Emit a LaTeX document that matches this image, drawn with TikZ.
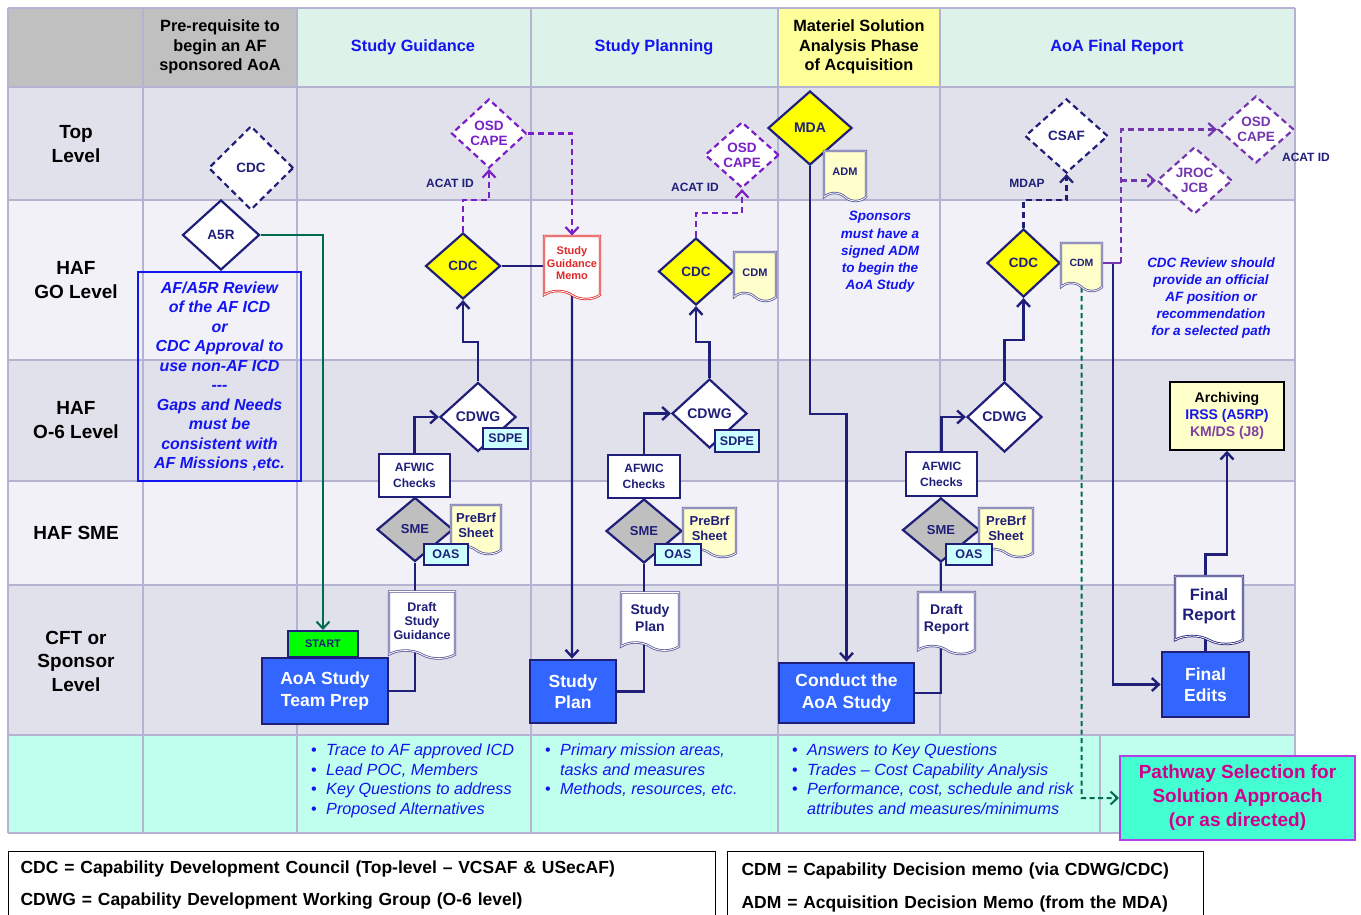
\documentclass[tikz,border=0pt]{standalone}
\usepackage{fontspec}
\setmainfont{Liberation Sans}
\usetikzlibrary{shapes.geometric,shapes.symbols,arrows.meta}
\definecolor{nv}{HTML}{1F1F7A}
\definecolor{bl}{HTML}{1414F0}
\definecolor{pu}{HTML}{7A1FC8}
\definecolor{pm}{HTML}{7436B0}
\definecolor{gr}{HTML}{006B4F}
\definecolor{gl}{HTML}{B4B4D2}
\definecolor{hg}{HTML}{C0C0C0}
\definecolor{hm}{HTML}{DDF2E9}
\definecolor{hy}{HTML}{FFFF99}
\definecolor{ra}{HTML}{E1E1EC}
\definecolor{rb}{HTML}{F1F1F7}
\definecolor{nt}{HTML}{C0FFEE}
\definecolor{ly}{HTML}{FFFFCC}
\definecolor{lc}{HTML}{CCFFFF}
\definecolor{tb}{HTML}{3366FF}
\definecolor{yl}{HTML}{FFFF00}
\definecolor{sg}{HTML}{BFBFBF}
\definecolor{go}{HTML}{00FF00}
\definecolor{mr}{HTML}{E02828}
\definecolor{pw}{HTML}{44FFD2}
\definecolor{pb}{HTML}{B040E0}
\definecolor{mg}{HTML}{D0008C}
\definecolor{kp}{HTML}{8040A0}
\pgfdeclarelayer{cells}
\pgfdeclarelayer{links}
\pgfsetlayers{cells,links,main}
\newcommand\bul{\makebox[15pt][l]{\upshape\textbullet}}
\newcommand\nob{\hspace*{15pt}}
\tikzset{
  hd/.style={align=center,inner sep=0pt,font=\bfseries\fontsize{16.3}{19.5}\selectfont},
  rl/.style={align=center,inner sep=0pt,font=\bfseries\fontsize{19}{24}\selectfont},
  dia/.style={diamond,draw=nv,line width=2.2pt,fill=white,inner sep=0pt,text=nv,align=center,
    font=\bfseries\fontsize{13.5}{15}\selectfont},
  ydia/.style={dia,fill=yl},
  gdia/.style={dia,fill=sg,font=\bfseries\fontsize{13}{15}\selectfont},
  ddia/.style={dia,dash pattern=on 6pt off 4pt},
  pdia/.style={ddia,draw=pu,text=pu},
  task/.style={rectangle,draw=nv,line width=2.8pt,fill=tb,text=white,align=center,inner sep=1pt,
    font=\bfseries\fontsize{17.5}{21.5}\selectfont},
  chk/.style={rectangle,draw=nv,line width=2pt,fill=white,text=nv,align=center,inner sep=1pt,
    font=\bfseries\fontsize{12}{16}\selectfont},
  tag/.style={chk,fill=lc,font=\bfseries\fontsize{12.5}{14}\selectfont},
  memo/.style={tape,tape bend top=none,tape bend bottom=out and in,tape bend height=8pt,
    draw=nv!75,double=white,double distance=0.8pt,line width=0.8pt,fill=white,text=nv,
    align=center,inner sep=1pt,font=\bfseries\fontsize{12.5}{14}\selectfont},
  lbl/.style={text=nv,inner sep=0pt,font=\bfseries\fontsize{12}{14}\selectfont},
  note/.style={text=bl,align=center,inner sep=0pt,font=\bfseries\itshape\fontsize{13.5}{17.2}\selectfont},
  bnote/.style={text=bl,align=left,inner sep=0pt,anchor=north west,font=\itshape\fontsize{16.2}{19.5}\selectfont},
  leg/.style={draw=black,line width=1.2pt,fill=white,anchor=north west,align=left,inner ysep=0pt,
    font=\bfseries\fontsize{17.5}{32}\selectfont},
  flow/.style={draw=nv,line width=2.4pt},
  pflow/.style={draw=pu,line width=2.2pt,dash pattern=on 6pt off 4pt},
  mflow/.style={pflow,draw=pm},
  nflow/.style={flow,line width=2.2pt,dash pattern=on 6pt off 4pt},
  gflow/.style={draw=gr,line width=2pt},
  gdash/.style={gflow,dash pattern=on 5pt off 3.5pt}
}
\begin{document}
\begin{tikzpicture}[x=1pt,y=-1pt,>={Straight Barb[length=7pt,width=13pt]}]
\useasboundingbox (0,0) rectangle (1361,915);
\begin{pgfonlayer}{cells}
  \fill[white] (0,0) rectangle (1361,915);
  \fill[hg] (8,8) rectangle (297,87);
  \fill[hm] (297,8) rectangle (778,87);
  \fill[hy] (778,8) rectangle (940,87);
  \fill[hm] (940,8) rectangle (1295,87);
  \foreach \ya/\yb/\c in {87/200/ra,200/360/rb,360/481/ra,481/585/rb,585/735/ra}
    \fill[\c] (8,\ya) rectangle (1295,\yb);
  \fill[nt] (8,735) rectangle (1295,833);
  \foreach \y in {8,87,200,360,481,585,735,833}
    \draw[gl,line width=1.5pt] (8,\y) -- (1295,\y);
  \foreach \x in {8,143,297,531,778,940,1295}
    \draw[gl,line width=1.5pt] (\x,8) -- (\x,735);
  \foreach \x in {8,143,297,531,778,1100,1295}
    \draw[gl,line width=1.5pt] (\x,735) -- (\x,833);
\end{pgfonlayer}

% headers and row labels
\node[hd] (hpre) at (220,47) {Pre-requisite to\\begin an AF\\sponsored AoA};
\node[hd,text=bl] (hsg) at (413,47) {Study Guidance};
\node[hd,text=bl] (hsp) at (654,47) {Study Planning};
\node[hd] (hmsa) at (859,47) {Materiel Solution\\Analysis Phase\\of Acquisition};
\node[hd,text=bl] (hfin) at (1117,47) {AoA Final Report};
\node[rl] (rtop) at (76,144) {Top\\Level};
\node[rl] (rgo) at (76,280) {HAF\\GO Level};
\node[rl] (ro6) at (76,420) {HAF\\O-6 Level};
\node[rl] (rsme) at (76,533) {HAF SME};
\node[rl,font=\bfseries\fontsize{19}{23.5}\selectfont] (rcft) at (76,661) {CFT or\\Sponsor\\Level};

% pre-requisite
\node[ddia,minimum width=85pt,minimum height=84pt] (cdc0) at (251,168) {CDC};
\node[dia,minimum width=77pt,minimum height=70pt] (a5r) at (221,235) {A5R};
\node[draw=bl,line width=1.3pt,minimum width=163pt,minimum height=209pt,text=bl,align=center,inner sep=0pt,
  font=\bfseries\itshape\fontsize{16}{19.5}\selectfont] (review) at (219.5,376.5)
  {AF/A5R Review\\of the AF ICD\\or\\CDC Approval to\\use non-AF ICD\\{-}{-}{-}\\Gaps and Needs\\must be\\consistent with\\AF Missions ,etc.};

% study guidance
\node[chk,fill=go,minimum width=70pt,minimum height=26pt,font=\bfseries\fontsize{11}{12}\selectfont] (start) at (323,644) {START};
\node[task,minimum width=126pt,minimum height=66pt] (prep) at (325,691) {AoA Study\\Team Prep};
\node[memo,minimum width=66pt,minimum height=67pt] (dsg) at (422,621) {Draft\\Study\\Guidance};
\node[gdia,minimum width=76pt,minimum height=64pt] (sme1) at (415,529.5) {SME};
\node[chk,minimum width=71pt,minimum height=43pt] (afwic1) at (414.5,475.5) {AFWIC\\Checks};
\node[memo,fill=ly,minimum width=50pt,minimum height=49pt,font=\bfseries\fontsize{13}{15}\selectfont] (pre1) at (476,525.5) {PreBrf\\Sheet};
\node[tag,minimum width=44pt,minimum height=21pt] (oas1) at (446,554.5) {OAS};
\node[dia,minimum width=76pt,minimum height=69pt,font=\bfseries\fontsize{14}{15}\selectfont] (cdwg1) at (478,417) {CDWG};
\node[tag,minimum width=45pt,minimum height=21pt] (sdpe1) at (505.5,438.5) {SDPE};
\node[ydia,minimum width=75pt,minimum height=66pt] (cdc1) at (463,266) {CDC};
\node[pdia,minimum width=75pt,minimum height=69pt] (osd1) at (489,133.5) {OSD\\CAPE};
\node[lbl] (acat1) at (450,183) {ACAT ID};

% study planning
\node[memo,draw=mr,text=mr,minimum width=56pt,minimum height=63pt,font=\bfseries\fontsize{11}{12.5}\selectfont] (sgm) at (572,263.5) {Study\\Guidance\\Memo};
\node[task,minimum width=86pt,minimum height=63pt] (splan) at (573,691.5) {Study\\Plan};
\node[memo,minimum width=58pt,minimum height=58pt,font=\bfseries\fontsize{14}{17}\selectfont] (spdoc) at (650,617.5) {Study\\Plan};
\node[gdia,minimum width=76pt,minimum height=64pt] (sme2) at (644,531) {SME};
\node[chk,minimum width=72pt,minimum height=43pt] (afwic2) at (644,476.5) {AFWIC\\Checks};
\node[memo,fill=ly,minimum width=53pt,minimum height=49pt,font=\bfseries\fontsize{13}{15}\selectfont] (pre2) at (709.5,528.5) {PreBrf\\Sheet};
\node[tag,minimum width=46pt,minimum height=21pt] (oas2) at (678,554.5) {OAS};
\node[dia,minimum width=75pt,minimum height=69pt,font=\bfseries\fontsize{14}{15}\selectfont] (cdwg2) at (709.5,413.5) {CDWG};
\node[tag,minimum width=44pt,minimum height=22pt] (sdpe2) at (737,441) {SDPE};
\node[ydia,minimum width=75pt,minimum height=67pt] (cdc2) at (696,271.5) {CDC};
\node[memo,fill=ly,minimum width=42pt,minimum height=49pt,font=\bfseries\fontsize{11}{12}\selectfont] (cdm2) at (755,272.5) {CDM};
\node[pdia,minimum width=74pt,minimum height=66pt] (osd2) at (742,155) {OSD\\CAPE};
\node[lbl] (acat2) at (695,187) {ACAT ID};

% materiel solution analysis
\node[ydia,minimum width=84pt,minimum height=74pt,font=\bfseries\fontsize{14}{15}\selectfont] (mda) at (810,128) {MDA};
\node[memo,fill=ly,minimum width=42pt,minimum height=50pt,font=\bfseries\fontsize{11}{12}\selectfont] (adm) at (845,172) {ADM};
\node[task,minimum width=135pt,minimum height=60pt] (conduct) at (846.5,693) {Conduct the\\AoA Study};
\node[memo,minimum width=57pt,minimum height=62pt,font=\bfseries\fontsize{14}{17}\selectfont] (drep) at (946.5,619) {Draft\\Report};
\node[note] (spons) at (880,252) {Sponsors\\must have a\\signed ADM\\to begin the\\AoA Study};

% final report
\node[gdia,minimum width=77pt,minimum height=64pt] (sme3) at (941,530) {SME};
\node[chk,minimum width=71pt,minimum height=44pt] (afwic3) at (941.5,474) {AFWIC\\Checks};
\node[memo,fill=ly,minimum width=54pt,minimum height=49pt,font=\bfseries\fontsize{13}{15}\selectfont] (pre3) at (1006,528.5) {PreBrf\\Sheet};
\node[tag,minimum width=46pt,minimum height=21pt] (oas3) at (969,554.5) {OAS};
\node[dia,minimum width=75pt,minimum height=70pt,font=\bfseries\fontsize{14}{15}\selectfont] (cdwg3) at (1004.5,417) {CDWG};
\node[ydia,minimum width=73pt,minimum height=68pt] (cdc3) at (1023.5,263) {CDC};
\node[memo,fill=ly,minimum width=41pt,minimum height=48pt,font=\bfseries\fontsize{10.5}{12}\selectfont] (cdm3) at (1081.5,263) {CDM};
\node[ddia,minimum width=83pt,minimum height=74pt] (csaf) at (1066.5,136) {CSAF};
\node[lbl] (mdap) at (1027,183) {MDAP};
\node[pdia,draw=pm,text=pm,minimum width=76pt,minimum height=67pt] (osd3) at (1256,129.5) {OSD\\CAPE};
\node[lbl] (acat3) at (1306,157) {ACAT ID};
\node[pdia,draw=pm,text=pm,minimum width=75pt,minimum height=67pt] (jroc) at (1194.5,180.5) {JROC\\JCB};
\node[note] (cdcrev) at (1211,298) {CDC Review should\\provide an official\\AF position or\\recommendation\\for a selected path};
\node[task,minimum width=87pt,minimum height=65pt] (fedits) at (1205.5,684.5) {Final\\Edits};
\node[memo,draw=nv,minimum width=68pt,minimum height=68pt,font=\bfseries\fontsize{16.5}{20}\selectfont] (frep) at (1209,606) {Final\\Report};
\node[draw=black,line width=1.5pt,fill=ly,minimum width=114pt,minimum height=68pt,align=center,inner sep=0pt,
  font=\bfseries\fontsize{14}{17}\selectfont] (arch) at (1227,416)
  {Archiving\\\textcolor{bl}{IRSS (A5RP)}\\\textcolor{kp}{KM/DS (J8)}};
\node[draw=pb,line width=2pt,fill=pw,text=mg,minimum width=235pt,minimum height=84pt,align=center,inner sep=0pt,
  font=\bfseries\fontsize{19}{24}\selectfont] (pathw) at (1237.5,798) {Pathway Selection for\\Solution Approach\\(or as directed)};
\coordinate (split) at (1121,263);
\coordinate (drop) at (1113,263);

% notes row
\node[bnote] (ntsg) at (311,744) {\bul Trace to AF approved ICD\\\bul Lead POC, Members\\\bul Key Questions to address\\\bul Proposed Alternatives};
\node[bnote] (ntsp) at (545,744) {\bul Primary mission areas,\\\nob tasks and measures\\\bul Methods, resources, etc.};
\node[bnote] (ntms) at (792,744) {\bul Answers to Key Questions\\\bul Trades -- Cost Capability Analysis\\\bul Performance, cost, schedule and risk\\\nob attributes and measures/minimums};

% legend
\node[leg,minimum width=707pt,minimum height=66pt,inner xsep=12pt,text width=683pt] (legl) at (8,851)
  {CDC = Capability Development Council (Top-level -- VCSAF \& USecAF)\\CDWG = Capability Development Working Group (O-6 level)};
\node[leg,minimum width=476pt,minimum height=71pt,inner xsep=14pt,text width=448pt,font=\bfseries\fontsize{17.5}{33}\selectfont] (legr) at (727,851)
  {CDM = Capability Decision memo (via CDWG/CDC)\\ADM = Acquisition Decision Memo (from the MDA)};

\begin{pgfonlayer}{links}
  \draw[gflow,->] (a5r.east) -| (start.north);
  \draw[flow] (prep) -| (sme1 |- dsg);
  \draw[flow] (sme1) -- (sme1 |- dsg);
  \draw[flow,->] (afwic1.north) |- (cdwg1.west);
  \draw[flow,->] (cdwg1.north) -- (cdwg1.north |- 0,342) -| (cdc1.south);
  \draw[pflow,->] (cdc1.north) -- (cdc1.north |- 0,200) -| (osd1.south);
  \draw[pflow,->] (osd1.east) -| (sgm.north);
  \draw[flow] (cdc1) -- (cdc1 -| sgm);
  \draw[flow,->] (sgm) -- (sgm |- splan.north);
  \draw[flow] (splan) -| (sme2 |- spdoc);
  \draw[flow] (sme2) -- (sme2 |- spdoc);
  \draw[flow,->] (afwic2.north) |- (cdwg2.west);
  \draw[flow,->] (cdwg2.north) -- (cdwg2.north |- 0,342) -| (cdc2.south);
  \draw[pflow,->] (cdc2.north) -- (cdc2.north |- 0,213) -| (osd2.south);
  \draw[flow,->] (mda) -- (mda |- 0,414) -| (conduct.north);
  \draw[flow] (conduct) -| (sme3 |- drep);
  \draw[flow] (sme3) -- (sme3 |- drep);
  \draw[flow,->] (afwic3.north) |- (cdwg3.west);
  \draw[flow,->] (cdwg3.north) -- (cdwg3.north |- 0,340) -| (cdc3.south);
  \draw[nflow,->] (cdc3.north) -- (cdc3.north |- 0,200) -| (csaf.south);
  \draw[flow,->] (drop) |- (fedits.west);
  \draw[draw=pm,line width=2.2pt] (cdm3.east) -- (split);
  \draw[mflow,->] (split) |- (osd3.west);
  \draw[mflow,->] (split |- jroc) -- (jroc.west);
  \draw[gdash,->] (cdm3) -- (cdm3 |- pathw) -- (pathw.west);
  \draw[flow] (fedits) -- (fedits |- frep);
  \draw[flow,->] (fedits |- frep.north) -- ++(0,-21) -| (arch.south);
\end{pgfonlayer}
\end{tikzpicture}
\end{document}
